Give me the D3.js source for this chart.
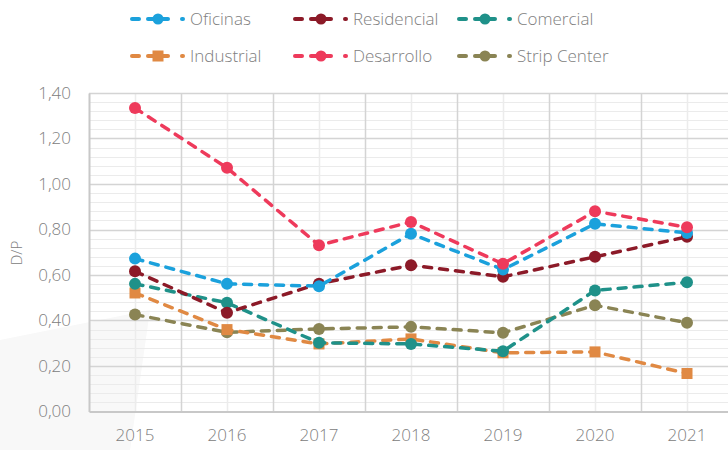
<!DOCTYPE html>
<html>
<head>
<meta charset="utf-8">
<script src="https://cdn.jsdelivr.net/npm/d3@7"></script>
<style>
  body { margin: 0; background: #fff; }
  svg { display: block; font-family: "Open Sans", "Lato", sans-serif; }
</style>
</head>
<body>
<svg id="chart"></svg>
<script>
// years on the x axis
const years = ["2015", "2016", "2017", "2018", "2019", "2020", "2021"];

// D/P per segment
const oficinas    = [0.672, 0.561, 0.551, 0.781, 0.624, 0.825, 0.785];
const residencial = [0.616, 0.434, 0.562, 0.643, 0.592, 0.680, 0.768];
const comercial   = [0.561, 0.478, 0.302, 0.297, 0.265, 0.532, 0.568];
const industrial  = [0.521, 0.360, 0.297, 0.319, 0.258, 0.262, 0.167];
const desarrollo  = [1.334, 1.071, 0.731, 0.833, 0.649, 0.880, 0.810];
const stripCenter = [0.426, 0.348, 0.363, 0.372, 0.346, 0.467, 0.390];

const yTicks = [0, 0.2, 0.4, 0.6, 0.8, 1.0, 1.2, 1.4];

const series = [
  { name: "Oficinas", values: oficinas, color: "#1ba1dc", shape: "circle" },
  { name: "Residencial", values: residencial, color: "#8c1a28", shape: "circle" },
  { name: "Comercial", values: comercial, color: "#1f9189", shape: "circle" },
  { name: "Industrial", values: industrial, color: "#e08943", shape: "square" },
  { name: "Desarrollo", values: desarrollo, color: "#ee3a5b", shape: "circle" },
  { name: "Strip Center", values: stripCenter, color: "#8a8454", shape: "circle" }
];

const width = 728, height = 450;
const margin = { top: 93, right: -5, bottom: 38, left: 89 };

const svg = d3.select("#chart").attr("width", width).attr("height", height);

// faint background shape, bottom left
svg.append("path")
  .attr("d", "M0,340 L150,310 L130,450 L0,450 Z")
  .attr("fill", "#f8f8f8");

const x = d3.scaleBand()
  .domain(years)
  .range([margin.left, width - margin.right]);

const y = d3.scaleLinear()
  .domain([0, 1.4])
  .range([height - margin.bottom - 0.5, margin.top]);

const grid = svg.append("g");

// minor horizontal grid
const minor = d3.range(0, 1.4001, 0.04).filter(v => Math.abs(v / 0.2 - Math.round(v / 0.2)) > 1e-6);
grid.selectAll(".hminor").data(minor).enter().append("line")
  .attr("x1", margin.left).attr("x2", width)
  .attr("y1", d => Math.round(y(d)) + 0.5).attr("y2", d => Math.round(y(d)) + 0.5)
  .attr("stroke", "#ebebeb").attr("stroke-width", 1);

// category centre vertical lines
grid.selectAll(".vminor").data(years).enter().append("line")
  .attr("x1", d => Math.round(x(d) + x.bandwidth() / 2) + 0.5)
  .attr("x2", d => Math.round(x(d) + x.bandwidth() / 2) + 0.5)
  .attr("y1", y(1.4)).attr("y2", y(0))
  .attr("stroke", "#ececec").attr("stroke-width", 1.5);

// major horizontal grid
grid.selectAll(".hmajor").data(yTicks.slice(1)).enter().append("line")
  .attr("x1", margin.left).attr("x2", width)
  .attr("y1", d => Math.round(y(d)) + 0.5).attr("y2", d => Math.round(y(d)) + 0.5)
  .attr("stroke", "#d4d4d4").attr("stroke-width", 1.5);

// category boundaries
grid.selectAll(".vmajor").data(years.slice(1)).enter().append("line")
  .attr("x1", d => Math.round(x(d)) + 0.5).attr("x2", d => Math.round(x(d)) + 0.5)
  .attr("y1", y(1.4)).attr("y2", y(0))
  .attr("stroke", "#d4d4d4").attr("stroke-width", 1.5);

// axes
const yAxis = d3.axisLeft(y).tickValues(yTicks).tickSize(0).tickPadding(18)
  .tickFormat(d => d3.format(".2f")(d).replace(".", ","));
svg.append("g")
  .attr("transform", `translate(${margin.left},0)`)
  .call(yAxis)
  .call(g => g.select(".domain").attr("stroke", "#c8c8c8").attr("stroke-width", 2))
  .selectAll("text")
  .attr("fill", "#808080").style("font-size", "17px")
  .style("font-family", "Open Sans").style("font-weight", 300);

const xAxis = d3.axisBottom(x).tickSize(0).tickPadding(17);
svg.append("g")
  .attr("transform", `translate(0,${y(0)})`)
  .call(xAxis)
  .call(g => g.select(".domain").attr("stroke", "#c8c8c8").attr("stroke-width", 2))
  .selectAll("text")
  .attr("fill", "#808080").style("font-size", "17px")
  .style("font-family", "Open Sans").style("font-weight", 300);

// y axis title
svg.append("text")
  .attr("transform", `translate(22,253) rotate(-90)`)
  .attr("text-anchor", "middle")
  .attr("fill", "#808080")
  .style("font-size", "15px")
  .style("font-weight", 300)
  .text("D/P");

const cx = d => x(d) + x.bandwidth() / 2;

const line = d3.line()
  .x((d, i) => cx(years[i]))
  .y(d => y(d));

function drawMarker(g, shape, color, px, py, r) {
  if (shape === "square") {
    g.append("rect")
      .attr("x", px - r).attr("y", py - r)
      .attr("width", 2 * r).attr("height", 2 * r)
      .attr("fill", color);
  } else {
    g.append("circle").attr("cx", px).attr("cy", py).attr("r", r).attr("fill", color);
  }
}

const drawOrder = ["Strip Center", "Industrial", "Comercial", "Residencial", "Oficinas", "Desarrollo"];
const lines = svg.append("g");
drawOrder.forEach(name => {
  const s = series.find(d => d.name === name);
  const g = lines.append("g");
  g.append("path")
    .datum(s.values)
    .attr("d", line)
    .attr("fill", "none")
    .attr("stroke", s.color)
    .attr("stroke-width", 3.5)
    .attr("stroke-linecap", "round")
    .attr("stroke-dasharray", "8,8");
  s.values.forEach((v, i) => {
    drawMarker(g, s.shape, s.color, cx(years[i]), y(v), s.shape === "square" ? 5.5 : 6);
  });
});

// legend
const legendPos = [
  { x: 131, y: 19 }, { x: 294, y: 19 }, { x: 458, y: 19 },
  { x: 131, y: 56 }, { x: 294, y: 56 }, { x: 458, y: 56 }
];
const legend = svg.append("g");
series.forEach((s, i) => {
  const p = legendPos[i];
  const g = legend.append("g").attr("transform", `translate(${p.x},${p.y})`);
  const seg = (a, b) => g.append("line").attr("x1", a).attr("x2", b).attr("y1", 0).attr("y2", 0)
    .attr("stroke", s.color).attr("stroke-width", 4).attr("stroke-linecap", "round");
  seg(1, 8);
  seg(17, 37);
  seg(51, 52);
  drawMarker(g, s.shape, s.color, 27, 0, 5.5);
  g.append("text")
    .attr("x", 59).attr("y", 0).attr("dy", "0.35em")
    .attr("fill", "#808080")
    .style("font-size", "17px")
    .style("font-weight", 300)
    .text(s.name);
});
</script>
</body>
</html>
